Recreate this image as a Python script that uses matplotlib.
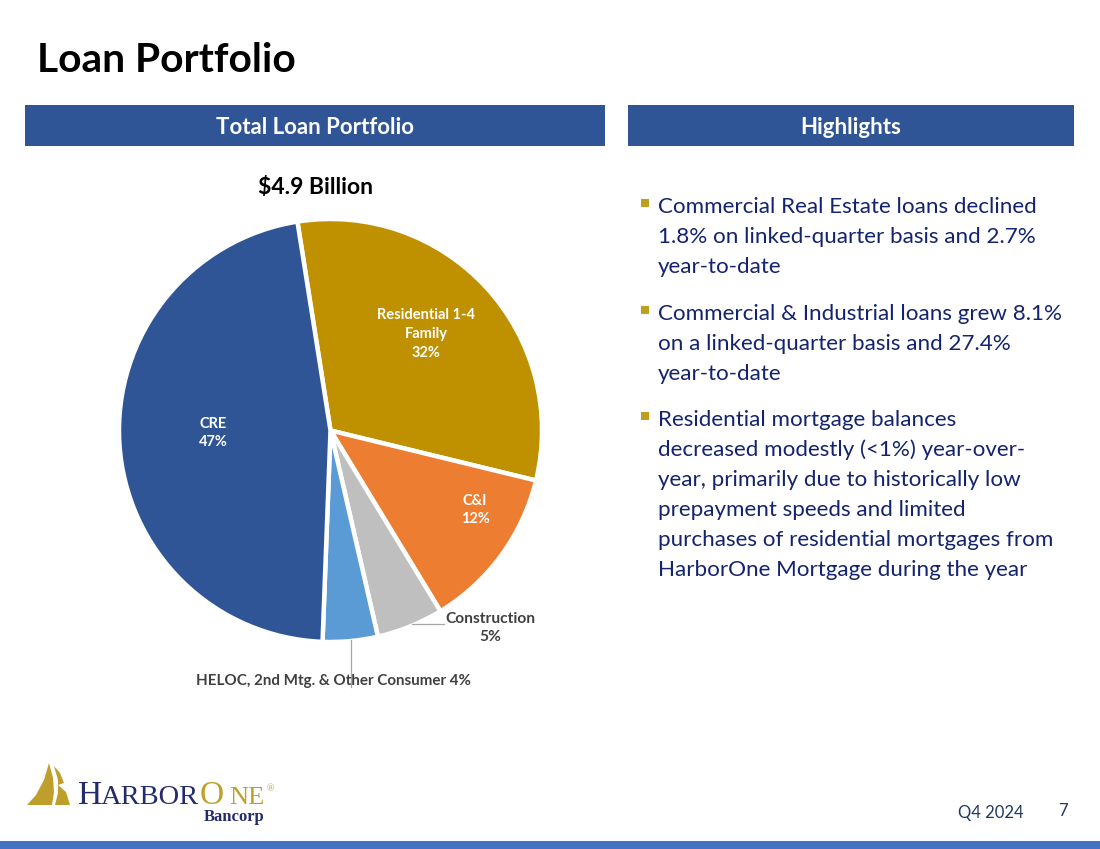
import matplotlib
matplotlib.use("Agg")
import matplotlib.pyplot as plt
from matplotlib.patches import Rectangle, Polygon

plt.rcParams['font.family'] = ['Lato', 'DejaVu Sans']

W, H = 1100, 849

# slice sizes, printed labels are the rounded ones
categories = ['Residential 1-4\nFamily\n32%', 'C&I\n12%', 'Construction\n5%',
              'HELOC, 2nd Mtg. & Other Consumer 4%', 'CRE\n47%']
shares = [31.3, 12.5, 5.1, 4.2, 46.9]
slice_colors = ['#BF9000', '#ED7D31', '#BFBFBF', '#5B9BD5', '#2F5597']

bullets = [
    ['Commercial Real Estate loans declined', '1.8% on linked-quarter basis and 2.7%', 'year-to-date'],
    ['Commercial & Industrial loans grew 8.1%', 'on a linked-quarter basis and 27.4%', 'year-to-date'],
    ['Residential mortgage balances', 'decreased modestly (<1%) year-over-', 'year, primarily due to historically low',
     'prepayment speeds and limited', 'purchases of residential mortgages from', 'HarborOne Mortgage during the year'],
]
bullet_tops = [205, 312, 418]

BLUE = '#2F5597'
NAVY = '#14236F'
GOLD = '#BF9F2B'
LOGO_NAVY = '#232B6B'
LABEL_GREY = '#404040'

fig = plt.figure(figsize=(W / 100, H / 100), dpi=100)

# page layer in pixel coordinates
bg = fig.add_axes([0, 0, 1, 1])
bg.set_xlim(0, W)
bg.set_ylim(H, 0)
bg.axis('off')

bg.text(37, 60, 'Loan Portfolio', fontsize=29.3, fontweight='bold', color='black', va='center')

bg.add_patch(Rectangle((25, 105), 580, 41, color=BLUE, lw=0))
bg.add_patch(Rectangle((628, 105), 446, 41, color=BLUE, lw=0))
bg.text(315, 127, 'Total Loan Portfolio', fontsize=16, fontweight='bold', color='white', ha='center', va='center')
bg.text(851, 127, 'Highlights', fontsize=16, fontweight='bold', color='white', ha='center', va='center')
bg.text(315, 187, '$4.9 Billion', fontsize=16.5, fontweight='bold', color='black', ha='center', va='center')

# highlights text
for lines, top in zip(bullets, bullet_tops):
    bg.add_patch(Rectangle((641, top - 6), 8, 8, color='#BF9F1F', lw=0))
    for i, line in enumerate(lines):
        bg.text(658, top + 2 + i * 30, line, fontsize=16.1, color=NAVY, va='center')

# pie
R = 211.5
cx, cy = 330.5, 430.5
pie_ax = fig.add_axes([(cx - R) / W, 1 - (cy + R) / H, 2 * R / W, 2 * R / H])
wedges, _ = pie_ax.pie(shares, colors=slice_colors, startangle=99, counterclock=False, radius=1,
                       wedgeprops={'edgecolor': 'white', 'linewidth': 3.2})
pie_ax.set_xlim(-1, 1)
pie_ax.set_ylim(-1, 1)

# labels go on a layer above the pie
top_ax = fig.add_axes([0, 0, 1, 1])
top_ax.set_xlim(0, W)
top_ax.set_ylim(H, 0)
top_ax.axis('off')

top_ax.text(426, 334, categories[0], fontsize=10.5, fontweight='bold', color='white', ha='center', va='center', linespacing=1.45)
top_ax.text(475, 510, categories[1], fontsize=10.5, fontweight='bold', color='white', ha='center', va='center', linespacing=1.45)
top_ax.text(213, 433, categories[4], fontsize=10.5, fontweight='bold', color='white', ha='center', va='center', linespacing=1.45)
top_ax.text(490, 628, categories[2], fontsize=11.2, fontweight='bold', color=LABEL_GREY, ha='center', va='center', linespacing=1.45)
top_ax.text(333.5, 681, categories[3], fontsize=10.9, fontweight='bold', color=LABEL_GREY, ha='center', va='center')

# leader lines
top_ax.plot([412, 444], [624, 624], color='#A6A6A6', lw=0.9, zorder=1)
top_ax.plot([351, 351], [640, 687], color='#A6A6A6', lw=0.9, zorder=1)

# logo, sails plus wordmark
bg.add_patch(Polygon([(27, 805), (36, 795), (44, 780), (49, 763), (53, 778), (54, 792), (52, 805)], color=GOLD, lw=0))
bg.add_patch(Polygon([(54, 766), (60, 773), (64, 783), (58, 785), (66, 792), (70, 805), (55, 805), (58, 793), (58, 780)], color=GOLD, lw=0))
bg.text(78, 804, 'H', fontsize=24, family='Liberation Serif', color=LOGO_NAVY, va='baseline')
bg.text(101, 804, 'ARBOR', fontsize=20.5, family='Liberation Serif', color=LOGO_NAVY, va='baseline')
bg.text(200, 804, 'O', fontsize=24, family='Liberation Serif', color=GOLD, va='baseline')
bg.text(229, 804, 'NE', fontsize=19, family='Liberation Serif', color=GOLD, va='baseline')
bg.text(270, 789, '®', fontsize=7, family='Liberation Serif', color=GOLD, ha='center', va='center')
bg.text(264, 817, 'Bancorp', fontsize=12, fontweight='bold', family='Liberation Serif', color=LOGO_NAVY, ha='right', va='center')

# footer
bg.text(1024, 813, 'Q4 2024', fontsize=12, color='#1F3864', ha='right', va='center')
bg.text(1063, 811, '7', fontsize=12, color='#1F3864', ha='center', va='center')
bg.add_patch(Rectangle((0, 841), W, 8, color='#4472C4', lw=0))

fig.savefig('out.png', dpi=100)
